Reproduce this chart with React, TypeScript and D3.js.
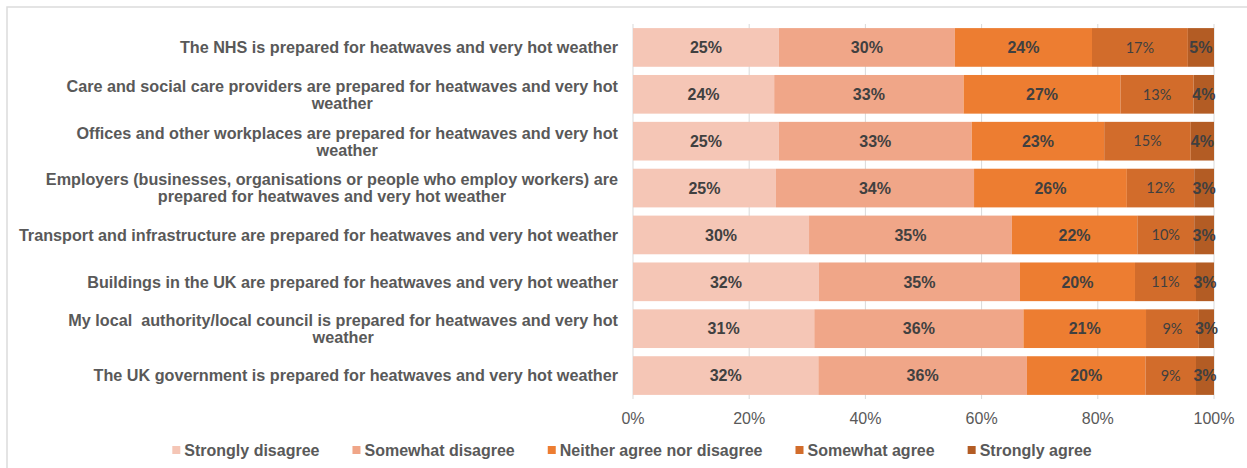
import React, { useEffect, useRef } from "react";
import * as d3 from "d3";

const categories = [
  "The NHS is prepared for heatwaves and very hot weather",
  "Care and social care providers are prepared for heatwaves and very hot\nweather",
  "Offices and other workplaces are prepared for heatwaves and very hot\nweather",
  "Employers (businesses, organisations or people who employ workers) are\nprepared for heatwaves and very hot weather",
  "Transport and infrastructure are prepared for heatwaves and very hot weather",
  "Buildings in the UK are prepared for heatwaves and very hot weather",
  "My local  authority/local council is prepared for heatwaves and very hot\nweather",
  "The UK government is prepared for heatwaves and very hot weather",
];

const seriesNames = [
  "Strongly disagree",
  "Somewhat disagree",
  "Neither agree nor disagree",
  "Somewhat agree",
  "Strongly agree",
];

const stronglyDisagree = [25.1, 24.3, 25.1, 24.6, 30.3, 32.0, 31.2, 31.9];
const somewhatDisagree = [30.3, 32.6, 33.2, 34.1, 34.9, 34.6, 36.0, 35.9];
const neitherAgree = [23.6, 27.0, 22.8, 26.3, 21.6, 19.8, 21.1, 20.4];
const somewhatAgree = [16.5, 12.6, 14.9, 11.6, 9.8, 10.5, 9.1, 8.7];
const stronglyAgree = [4.5, 3.5, 4.0, 3.4, 3.4, 3.1, 2.6, 3.1];

const colors = ["#F5C6B6", "#F0A688", "#ED7D31", "#D26C2B", "#B35C24"];
const xTicks = [0, 20, 40, 60, 80, 100];

const W = 1247;
const H = 468;
const FONT = "'Liberation Sans', Arial, Helvetica, sans-serif";

export default function App() {
  const ref = useRef<SVGSVGElement | null>(null);

  useEffect(() => {
    const svg = d3.select(ref.current);
    svg.selectAll("*").remove();

    const left = 633;
    const right = 1214;
    const top = 24;
    const bottom = 399;

    const series = [stronglyDisagree, somewhatDisagree, neitherAgree, somewhatAgree, stronglyAgree];
    const table = categories.map((c, i) => {
      const row: any = { cat: c };
      seriesNames.forEach((s, j) => (row[s] = series[j][i]));
      return row;
    });
    const stacked = d3.stack<any>().keys(seriesNames)(table);

    const x = d3.scaleLinear().domain([0, 100]).range([left, right]);
    const y = d3
      .scaleBand<string>()
      .domain(categories)
      .range([top, bottom])
      .paddingInner(0.175)
      .paddingOuter(0.0875);

    // frame
    svg
      .append("rect")
      .attr("x", 7)
      .attr("y", 7)
      .attr("width", 1400)
      .attr("height", 600)
      .attr("fill", "none")
      .attr("stroke", "#DCDCDC")
      .attr("stroke-width", 1.5);

    // gridlines
    svg
      .append("g")
      .selectAll("line")
      .data(xTicks)
      .join("line")
      .attr("x1", (d) => x(d))
      .attr("x2", (d) => x(d))
      .attr("y1", top)
      .attr("y2", bottom)
      .attr("stroke", "#D9D9D9")
      .attr("stroke-width", 1);

    // bars
    const gBars = svg.append("g");
    stacked.forEach((s, j) => {
      gBars
        .append("g")
        .attr("fill", colors[j])
        .selectAll("rect")
        .data(s)
        .join("rect")
        .attr("x", (d) => x(d[0]))
        .attr("width", (d) => x(d[1]) - x(d[0]))
        .attr("y", (d) => y(d.data.cat)!)
        .attr("height", y.bandwidth());
    });

    // value labels
    const gLab = svg.append("g");
    stacked.forEach((s, j) => {
      const bold = j !== 3;
      gLab
        .append("g")
        .selectAll("text")
        .data(s)
        .join("text")
        .attr("x", (d) => (x(d[0]) + x(d[1])) / 2)
        .attr("y", (d) => y(d.data.cat)! + y.bandwidth() / 2)
        .attr("dy", "0.36em")
        .attr("text-anchor", "middle")
        .attr("font-family", bold ? FONT : "Lato, 'Open Sans', sans-serif")
        .attr("font-weight", bold ? "bold" : "normal")
        .attr("font-size", bold ? 16 : 14.5)
        .attr("fill", "#404040")
        .text((d) => `${Math.round(d[1] - d[0])}%`);
    });

    // category labels
    const labelRight = 618;
    const gCat = svg.append("g");
    categories.forEach((c) => {
      const lines = c.split("\n");
      const cy = y(c)! + y.bandwidth() / 2;
      const lh = 17;
      const texts = lines.map((ln, k) =>
        gCat
          .append("text")
          .attr("x", labelRight)
          .attr("y", cy + (k - (lines.length - 1) / 2) * lh)
          .attr("dy", "0.36em")
          .attr("text-anchor", "end")
          .attr("font-family", FONT)
          .attr("font-weight", "bold")
          .attr("font-size", 16.2)
          .attr("fill", "#595959")
          .style("white-space", "pre")
          .text(ln)
      );
      if (lines.length > 1) {
        const maxW = d3.max(texts, (t) => (t.node() as SVGTextElement).getComputedTextLength())!;
        texts.forEach((t) => t.attr("text-anchor", "middle").attr("x", labelRight - maxW / 2));
      }
    });

    // x tick labels
    svg
      .append("g")
      .selectAll("text")
      .data(xTicks)
      .join("text")
      .attr("x", (d) => x(d))
      .attr("y", 418)
      .attr("dy", "0.36em")
      .attr("text-anchor", "middle")
      .attr("font-family", FONT)
      .attr("font-size", 16)
      .attr("fill", "#595959")
      .text((d) => `${d}%`);

    // legend
    const gLeg = svg.append("g");
    const sq = 8;
    const gapIn = 4;
    const gapOut = 33;
    const items = seriesNames.map((name, j) => {
      const g = gLeg.append("g");
      g.append("rect")
        .attr("width", sq)
        .attr("height", sq)
        .attr("y", 450 - sq / 2)
        .attr("fill", colors[j]);
      const t = g
        .append("text")
        .attr("x", sq + gapIn)
        .attr("y", 450)
        .attr("dy", "0.36em")
        .attr("font-family", FONT)
        .attr("font-weight", "bold")
        .attr("font-size", 16)
        .attr("fill", "#595959")
        .text(name);
      const w = (t.node() as SVGTextElement).getComputedTextLength();
      return { g, w: sq + gapIn + w };
    });
    const total = d3.sum(items, (d) => d.w) + gapOut * (items.length - 1);
    let cx = 632 - total / 2;
    items.forEach((it) => {
      it.g.attr("transform", `translate(${cx},0)`);
      cx += it.w + gapOut;
    });
  }, []);

  return (
    <svg
      ref={ref}
      width={W}
      height={H}
      style={{ position: "absolute", left: 0, top: 0, display: "block", background: "#fff" }}
    />
  );
}
